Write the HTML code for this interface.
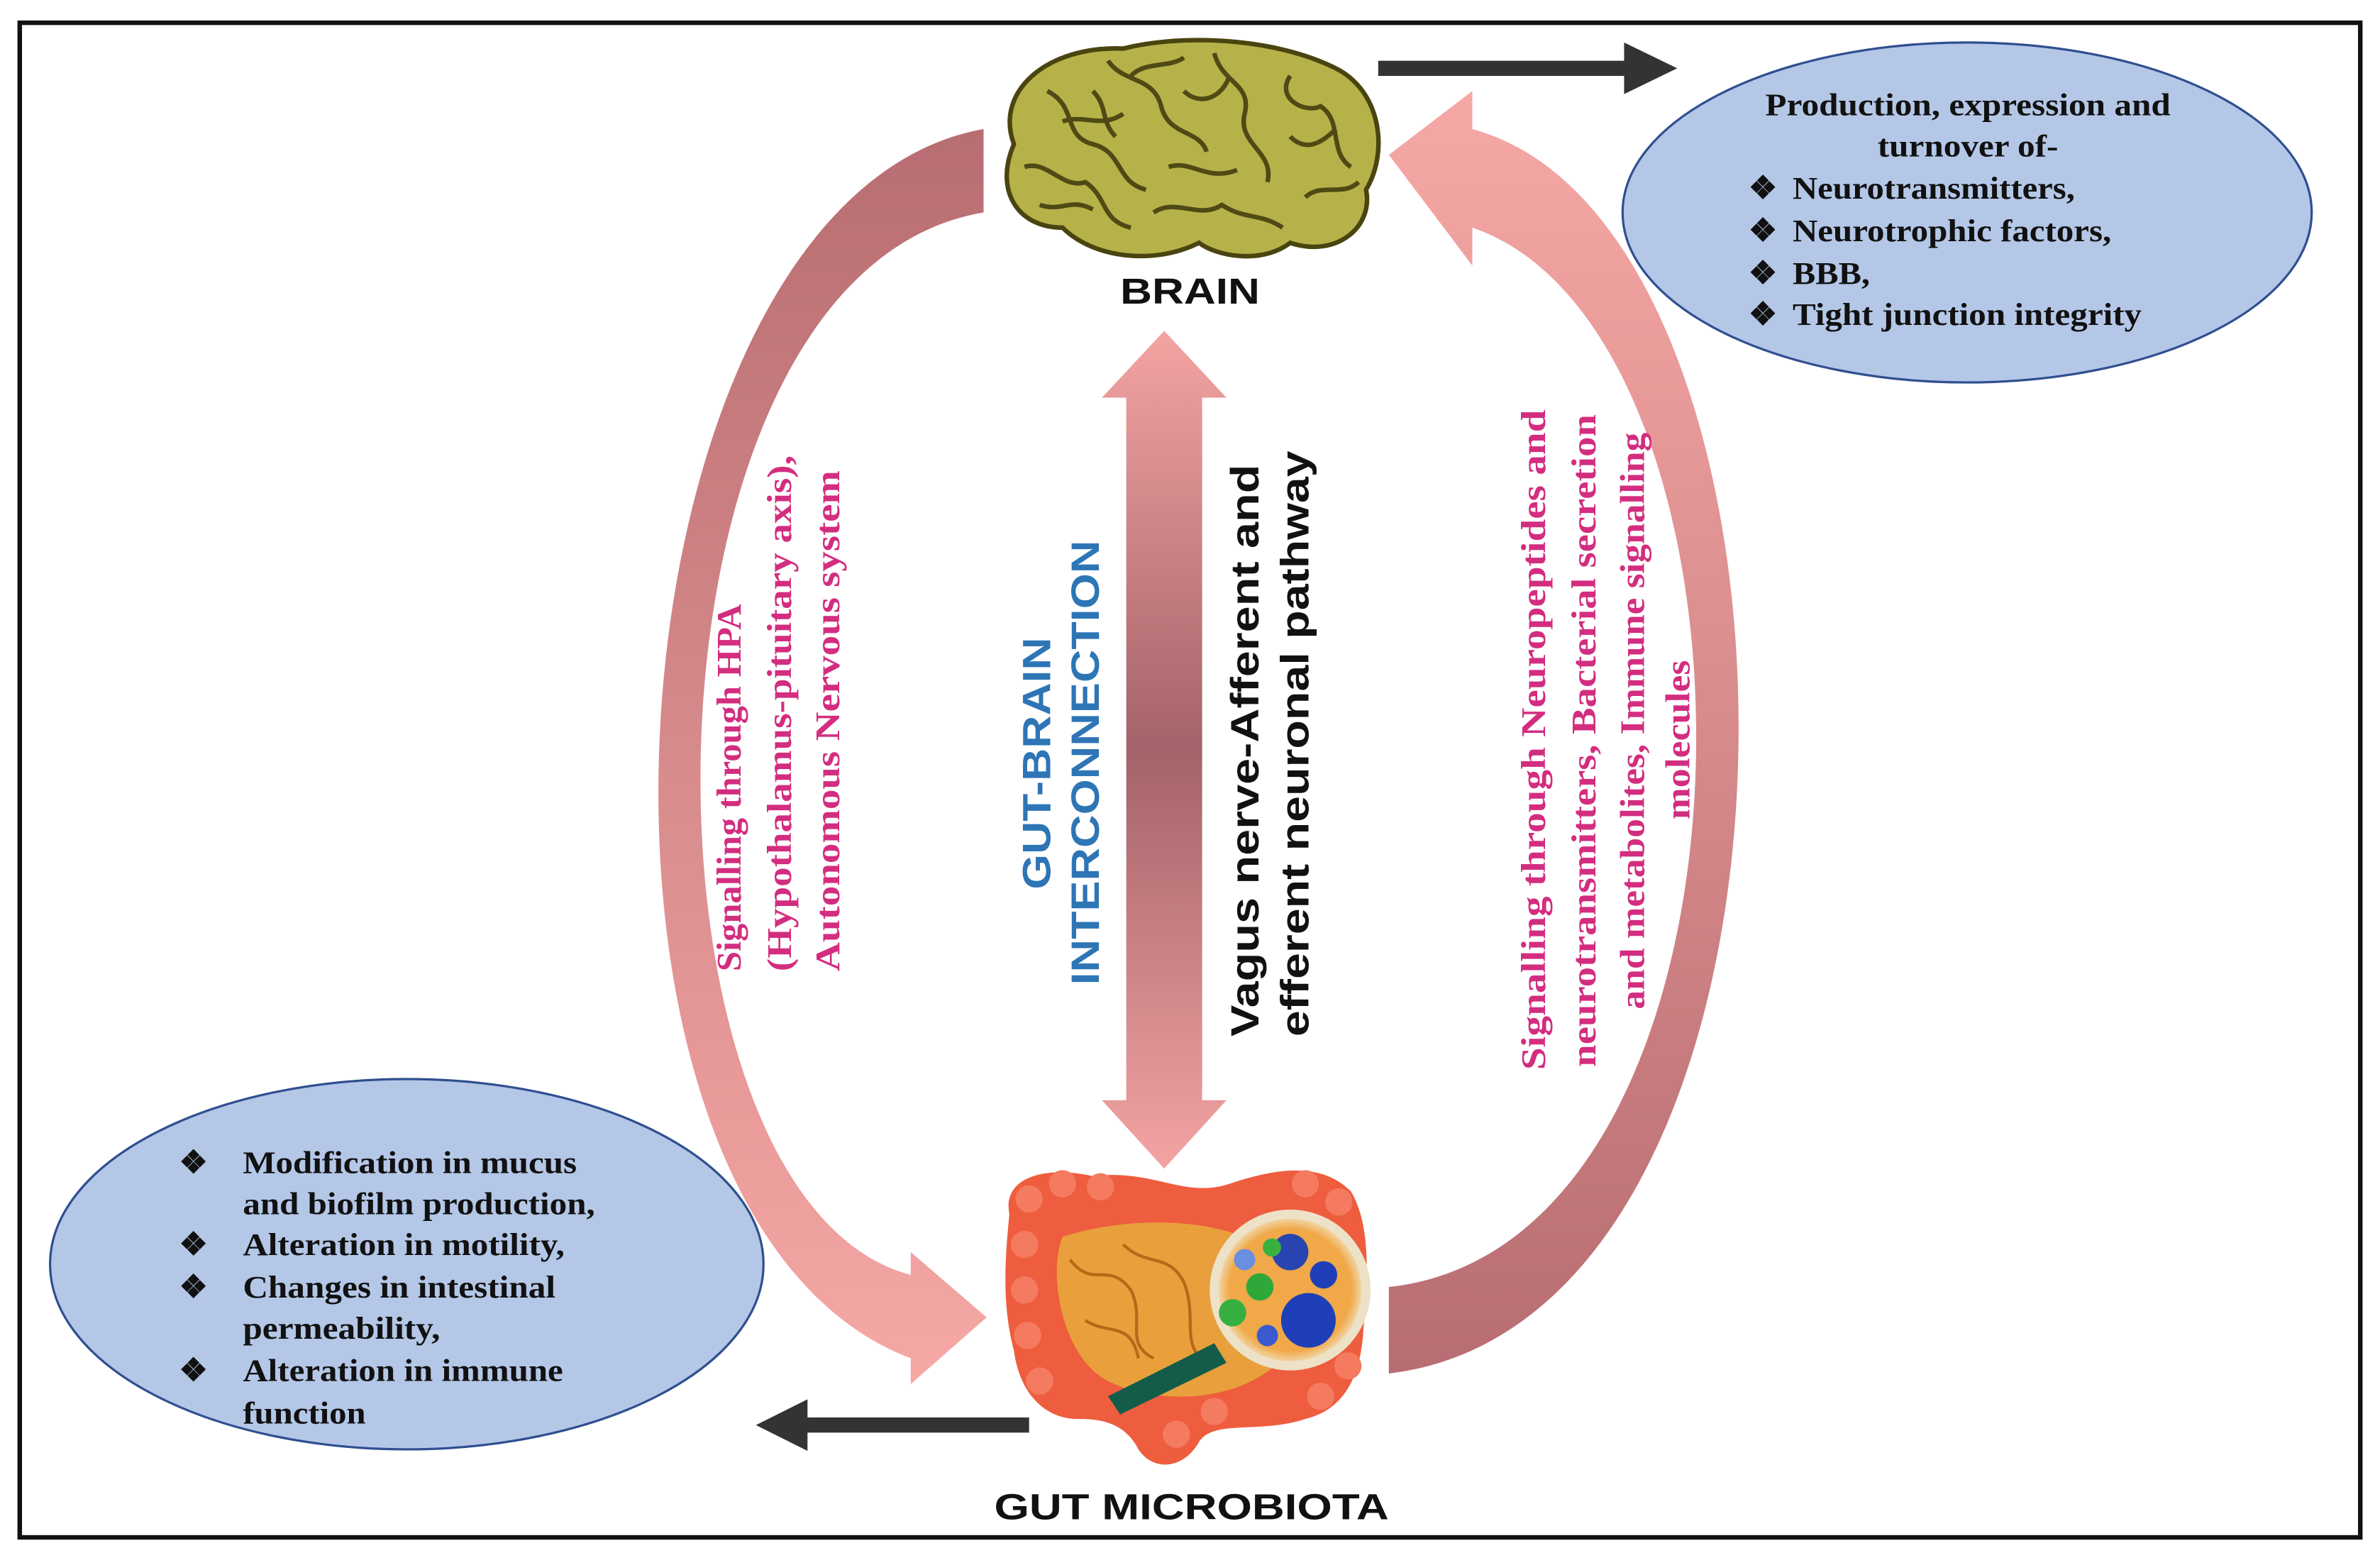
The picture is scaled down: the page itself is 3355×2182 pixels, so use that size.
<!DOCTYPE html>
<html><head><meta charset="utf-8"><style>
html,body{margin:0;padding:0;background:#fff;}
svg{display:block;}
.ser{font-family:"Liberation Serif",serif;font-weight:bold;}
.sans{font-family:"Liberation Sans",sans-serif;font-weight:bold;}
</style></head><body>
<svg width="3355" height="2182" viewBox="0 0 1568 1020" preserveAspectRatio="none" xmlns="http://www.w3.org/2000/svg">
<defs>
<linearGradient id="gl" x1="0" y1="0" x2="0" y2="1"><stop offset="0" stop-color="#b86d72"/><stop offset="1" stop-color="#f6a8a5"/></linearGradient>
<linearGradient id="gr" x1="0" y1="0" x2="0" y2="1"><stop offset="0" stop-color="#f6a8a5"/><stop offset="1" stop-color="#b86d72"/></linearGradient>
<linearGradient id="gv" x1="0" y1="0" x2="0" y2="1"><stop offset="0" stop-color="#f4a3a2"/><stop offset="0.5" stop-color="#a4636a"/><stop offset="1" stop-color="#f4a3a2"/></linearGradient>
<radialGradient id="lens" cx="0.5" cy="0.5" r="0.5"><stop offset="0.8" stop-color="#f0a848"/><stop offset="1" stop-color="#f2e6c8"/></radialGradient>
</defs>
<rect x="0" y="0" width="1568" height="1020" fill="#fff"/>
<rect x="13" y="15" width="1542" height="998" fill="none" stroke="#111" stroke-width="3"/>

<path d="M648,85 C395,130 350,800 600,895 L600,912 L650,868 L600,825 L600,840 C408,790 408,180 648,140 Z" fill="url(#gl)"/>
<path d="M915,905 C1215,870 1210,150 970,85 L970,60 L915,102 L970,175 L970,150 C1175,220 1175,820 915,848 Z" fill="url(#gr)"/>
<path d="M767,218 L808,262 L792,262 L792,725 L808,725 L767,770 L726,725 L742,725 L742,262 L726,262 Z" fill="url(#gv)"/>

<path d="M908,40 L1070,40 L1070,28 L1105,45 L1070,62 L1070,50 L908,50 Z" fill="#333"/>
<path d="M678,934 L532,934 L532,922 L498,939 L532,956 L532,944 L678,944 Z" fill="#333"/>

<ellipse cx="1296" cy="140" rx="227" ry="112" fill="#b4c7e7" stroke="#2f4f8f" stroke-width="1.5"/>
<ellipse cx="268" cy="833" rx="235" ry="122" fill="#b4c7e7" stroke="#2f4f8f" stroke-width="1.5"/>

<g class="ser" font-size="21" fill="#111">
<text x="1163" y="76" textLength="267" lengthAdjust="spacingAndGlyphs">Production, expression and</text>
<text x="1237" y="103" textLength="119" lengthAdjust="spacingAndGlyphs">turnover of-</text>
<text x="1152" y="131">❖</text><text x="1181" y="131" textLength="186" lengthAdjust="spacingAndGlyphs">Neurotransmitters,</text>
<text x="1152" y="159">❖</text><text x="1181" y="159" textLength="210" lengthAdjust="spacingAndGlyphs">Neurotrophic factors,</text>
<text x="1152" y="187">❖</text><text x="1181" y="187" textLength="51" lengthAdjust="spacingAndGlyphs">BBB,</text>
<text x="1152" y="214">❖</text><text x="1181" y="214" textLength="230" lengthAdjust="spacingAndGlyphs">Tight junction integrity</text>
<text x="118" y="773">❖</text><text x="160" y="773" textLength="220" lengthAdjust="spacingAndGlyphs">Modification in mucus</text>
<text x="160" y="800" textLength="232" lengthAdjust="spacingAndGlyphs">and biofilm production,</text>
<text x="118" y="827">❖</text><text x="160" y="827" textLength="212" lengthAdjust="spacingAndGlyphs">Alteration in motility,</text>
<text x="118" y="855">❖</text><text x="160" y="855" textLength="206" lengthAdjust="spacingAndGlyphs">Changes in intestinal</text>
<text x="160" y="882" textLength="130" lengthAdjust="spacingAndGlyphs">permeability,</text>
<text x="118" y="910">❖</text><text x="160" y="910" textLength="211" lengthAdjust="spacingAndGlyphs">Alteration in immune</text>
<text x="160" y="938" textLength="81" lengthAdjust="spacingAndGlyphs">function</text>
</g>

<g>
<path d="M668,95 C655,60 690,30 740,32 C780,22 840,25 880,45 C910,60 915,100 900,125 C905,150 880,170 850,160 C830,175 800,168 790,160 C760,175 720,170 700,150 C670,150 655,125 668,95 Z" fill="#b6b24a" stroke="#4a4410" stroke-width="3"/>
<g fill="none" stroke="#4f4a14" stroke-width="3">
<path d="M690,60 C710,70 700,90 720,95 C740,100 735,120 755,125"/>
<path d="M730,40 C740,55 760,50 765,70 C770,90 790,85 795,100"/>
<path d="M800,35 C805,55 825,55 820,75 C815,95 840,100 835,120"/>
<path d="M850,50 C840,65 860,75 870,70 C885,80 875,100 890,110"/>
<path d="M675,110 C690,105 700,125 715,120 C730,130 725,145 745,150"/>
<path d="M760,140 C775,130 790,145 805,135 C820,145 830,140 845,150"/>
<path d="M700,80 C715,75 725,85 740,75 M780,60 C790,70 805,65 810,50 M850,90 C860,100 870,95 880,85 M770,110 C785,105 795,120 815,112"/>
<path d="M685,135 C700,140 705,130 720,138 M745,50 C755,40 770,45 780,38 M860,130 C870,120 885,130 895,120 M720,60 C730,70 725,80 735,90"/>
</g>
</g>

<g>
<path d="M665,800 C660,775 690,768 720,775 C760,770 780,790 810,780 C840,770 870,765 890,785 C905,810 900,850 898,880 C895,915 880,930 860,935 C830,945 800,935 790,950 C780,968 760,970 750,955 C740,935 720,935 710,935 C690,935 672,920 668,890 C660,860 662,830 665,800 Z" fill="#ee5d3e"/>
<g fill="#f47a60">
<circle cx="678" cy="790" r="9"/><circle cx="700" cy="780" r="9"/><circle cx="725" cy="782" r="9"/><circle cx="860" cy="780" r="9"/><circle cx="882" cy="792" r="9"/>
<circle cx="675" cy="820" r="9"/><circle cx="675" cy="850" r="9"/><circle cx="677" cy="880" r="9"/><circle cx="685" cy="910" r="9"/>
<circle cx="888" cy="900" r="9"/><circle cx="870" cy="920" r="9"/><circle cx="775" cy="945" r="9"/><circle cx="800" cy="930" r="9"/>
</g>
<path d="M700,815 C730,805 780,800 820,815 C850,830 860,870 840,900 C810,925 760,925 730,910 C700,895 690,840 700,815 Z" fill="#e9a03c"/>
<g fill="none" stroke="#b86818" stroke-width="2">
<path d="M705,830 C720,850 730,830 745,850 C755,870 740,885 760,895"/>
<path d="M740,820 C755,835 770,825 780,845 C790,870 775,890 800,900"/>
<path d="M715,870 C730,880 745,870 750,895"/>
</g>
<circle cx="850" cy="850" r="50" fill="url(#lens)" stroke="#ede2c8" stroke-width="6"/>
<circle cx="862" cy="870" r="18" fill="#1f3fb8"/>
<circle cx="850" cy="825" r="12" fill="#2844b0"/>
<circle cx="872" cy="840" r="9" fill="#1f3fb8"/>
<circle cx="830" cy="848" r="9" fill="#2fa83a"/>
<circle cx="812" cy="865" r="9" fill="#35b040"/>
<circle cx="820" cy="830" r="7" fill="#6a8ee0"/>
<circle cx="835" cy="880" r="7" fill="#3a5ad0"/>
<circle cx="838" cy="822" r="6" fill="#3ab040"/>
<path d="M730,920 L800,885 L808,898 L738,932 Z" fill="#135c4a"/>
</g>

<text x="738" y="200" textLength="92" lengthAdjust="spacingAndGlyphs" class="sans" font-size="24" fill="#111">BRAIN</text>
<text x="655" y="1001" textLength="260" lengthAdjust="spacingAndGlyphs" class="sans" font-size="24" fill="#111">GUT MICROBIOTA</text>

<g class="ser" font-size="23" fill="#d32d7f">
<text transform="translate(488,640) rotate(-90)" textLength="242" lengthAdjust="spacingAndGlyphs">Signalling through HPA</text>
<text transform="translate(521,640) rotate(-90)" textLength="340" lengthAdjust="spacingAndGlyphs">(Hypothalamus-pituitary axis),</text>
<text transform="translate(553,640) rotate(-90)" textLength="330" lengthAdjust="spacingAndGlyphs">Autonomous Nervous system</text>
<text transform="translate(1018,705) rotate(-90)" textLength="435" lengthAdjust="spacingAndGlyphs">Signalling through Neuropeptides and</text>
<text transform="translate(1051,703) rotate(-90)" textLength="430" lengthAdjust="spacingAndGlyphs">neurotransmitters, Bacterial secretion</text>
<text transform="translate(1083,665) rotate(-90)" textLength="380" lengthAdjust="spacingAndGlyphs">and metabolites, Immune signalling</text>
<text transform="translate(1113,540) rotate(-90)" textLength="105" lengthAdjust="spacingAndGlyphs">molecules</text>
</g>
<g class="sans" font-size="26">
<text transform="translate(692,586) rotate(-90)" fill="#2e75b6" textLength="166" lengthAdjust="spacingAndGlyphs">GUT-BRAIN</text>
<text transform="translate(724,649) rotate(-90)" fill="#2e75b6" textLength="293" lengthAdjust="spacingAndGlyphs">INTERCONNECTION</text>
<text transform="translate(829,683) rotate(-90)" fill="#111" textLength="377" lengthAdjust="spacingAndGlyphs">Vagus nerve-Afferent and</text>
<text transform="translate(862,683) rotate(-90)" fill="#111" textLength="386" lengthAdjust="spacingAndGlyphs">efferent neuronal pathway</text>
</g>
</svg>
</body></html>
